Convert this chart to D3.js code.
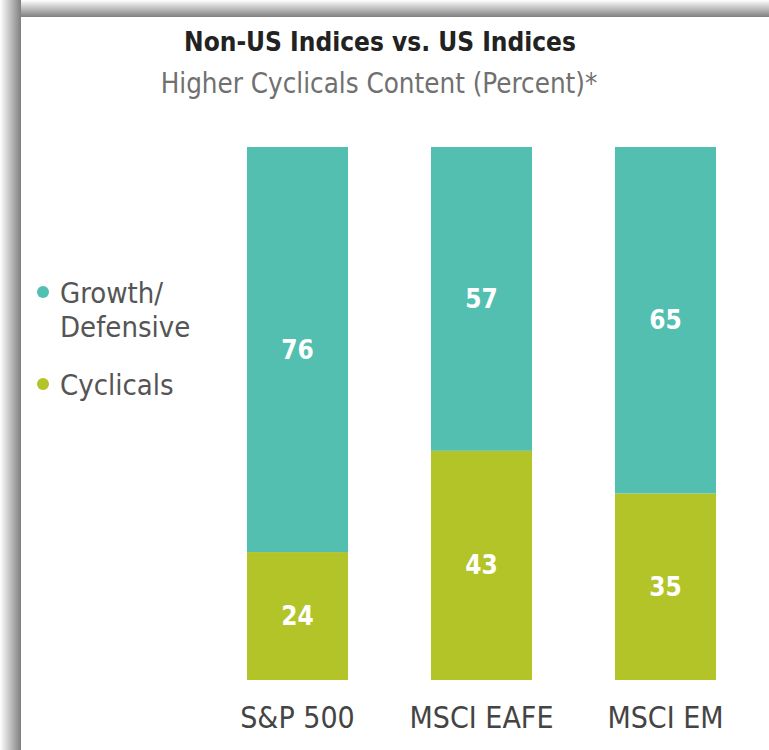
<!DOCTYPE html>
<html>
<head>
<meta charset="utf-8">
<script src="https://cdn.jsdelivr.net/npm/d3@7"></script>
<style>
  body { margin: 0; background: #fff; }
  text { font-family: "DejaVu Sans", sans-serif; font-stretch: condensed; }
</style>
</head>
<body>
<div id="chart"></div>
<script>
const width = 769,
    height = 750;

// data
const categories = ["S&P 500", "MSCI EAFE", "MSCI EM"];
const cyclicals = [24, 43, 35];
const growthDefensive = [76, 57, 65];
const seriesNames = ["Growth/Defensive", "Cyclicals"];
const seriesColors = ["#52bfb0", "#b2c428"];

const svg = d3.select("#chart").append("svg")
    .attr("width", width)
    .attr("height", height);

// shadow frame
const defs = svg.append("defs");
const gTop = defs.append("linearGradient").attr("id", "shTop").attr("x1", 0).attr("y1", 0).attr("x2", 0).attr("y2", 1);
gTop.append("stop").attr("offset", "0%").attr("stop-color", "#fff");
gTop.append("stop").attr("offset", "100%").attr("stop-color", "#7f7f7f");
const gLeft = defs.append("linearGradient").attr("id", "shLeft").attr("x1", 0).attr("y1", 0).attr("x2", 1).attr("y2", 0);
gLeft.append("stop").attr("offset", "0%").attr("stop-color", "#fff");
gLeft.append("stop").attr("offset", "100%").attr("stop-color", "#7f7f7f");

svg.append("rect").attr("x", 0).attr("y", 0).attr("width", width).attr("height", 17).attr("fill", "url(#shTop)");
svg.append("rect").attr("x", 0).attr("y", 0).attr("width", 21).attr("height", height).attr("fill", "url(#shLeft)");
svg.append("rect").attr("x", 21).attr("y", 17).attr("width", width - 21).attr("height", height - 17).attr("fill", "#fff");

// titles
svg.append("text")
    .attr("x", 380).attr("y", 51)
    .attr("text-anchor", "middle")
    .attr("font-size", 26).attr("font-weight", "bold")
    .attr("fill", "#222")
    .text("Non-US Indices vs. US Indices");

svg.append("text")
    .attr("x", 379).attr("y", 93)
    .attr("text-anchor", "middle")
    .attr("font-size", 27.5)
    .attr("fill", "#707070")
    .text("Higher Cyclicals Content (Percent)*");

// scales
const x = d3.scaleBand()
    .domain(categories)
    .range([155, 808])
    .paddingInner(0.451)
    .paddingOuter(0.5);

const y = d3.scaleLinear()
    .domain([0, 100])
    .range([680, 147]);

const stackData = categories.map((c, i) => ({
    cat: c,
    "Cyclicals": cyclicals[i],
    "Growth/Defensive": growthDefensive[i]
}));

const stack = d3.stack().keys(["Cyclicals", "Growth/Defensive"]);
const layers = stack(stackData);
const colorOf = d3.scaleOrdinal().domain(seriesNames).range(seriesColors);

const layerG = svg.append("g")
    .selectAll("g")
    .data(layers)
    .enter()
    .append("g")
    .attr("fill", d => colorOf(d.key));

layerG.selectAll("rect")
    .data(d => d)
    .enter()
    .append("rect")
    .attr("x", d => x(d.data.cat))
    .attr("width", x.bandwidth())
    .attr("y", d => y(d[1]))
    .attr("height", d => y(d[0]) - y(d[1]));

// value labels
layerG.selectAll("text")
    .data(d => d.map(v => Object.assign({ key: d.key }, v)))
    .enter()
    .append("text")
    .attr("x", d => x(d.data.cat) + x.bandwidth() / 2)
    .attr("y", d => (y(d[0]) + y(d[1])) / 2 + 9)
    .attr("text-anchor", "middle")
    .attr("font-size", 26).attr("font-weight", "bold")
    .attr("fill", "#fff")
    .text(d => d[1] - d[0]);

// category labels
svg.append("g")
    .selectAll("text")
    .data(categories)
    .enter()
    .append("text")
    .attr("x", d => x(d) + x.bandwidth() / 2)
    .attr("y", 728)
    .attr("text-anchor", "middle")
    .attr("font-size", 30)
    .attr("fill", "#444")
    .text(d => d);

// legend
const legend = svg.append("g");
const legendItems = [
    { name: seriesNames[0], lines: ["Growth/", "Defensive"], y: 292 },
    { name: seriesNames[1], lines: ["Cyclicals"], y: 384 }
];
legendItems.forEach(item => {
    legend.append("circle")
        .attr("cx", 43).attr("cy", item.y)
        .attr("r", 6)
        .attr("fill", colorOf(item.name));
    item.lines.forEach((l, i) => {
        legend.append("text")
            .attr("x", 60).attr("y", item.y + 11 + i * 34)
            .attr("font-size", 29)
            .attr("fill", "#555")
            .text(l);
    });
});
</script>
</body>
</html>
